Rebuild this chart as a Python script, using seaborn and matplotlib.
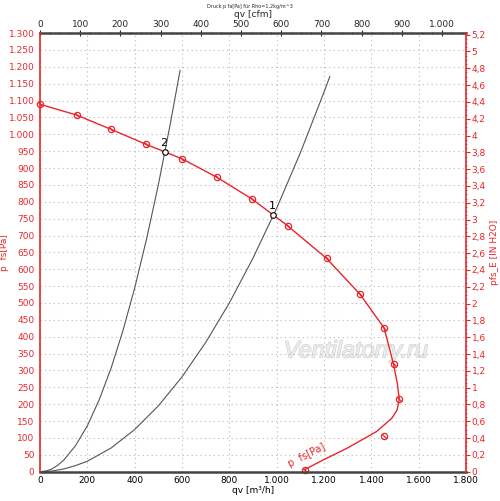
import matplotlib
matplotlib.use("Agg")
import matplotlib.pyplot as plt
import matplotlib.patheffects as pe
from matplotlib.ticker import FuncFormatter, MultipleLocator
import seaborn as sns
import pandas as pd

# === Datos ===
# curva del ventilador p_fs (línea)
curve_q = [0, 155, 299, 446, 601, 749, 896, 1046, 1211, 1352, 1454, 1494, 1510, 1518,
           1509, 1486, 1422, 1296, 1197, 1115]
curve_p = [1089, 1057, 1015, 971, 927, 872, 808, 729, 632, 526, 426, 318, 260, 215,
           183, 158, 119, 69, 35, 5]
# puntos medidos (marcadores)
meas_q = [0, 155, 299, 446, 601, 749, 896, 1046, 1211, 1352, 1454, 1494, 1518, 1453, 1118]
meas_p = [1089, 1057, 1015, 971, 927, 872, 808, 729, 632, 526, 426, 318, 215, 107, 5]
# curvas del sistema
sys1_q = [0, 50, 100, 150, 200, 300, 400, 500, 600, 700, 800, 900, 1000, 1100, 1200, 1225]
sys1_p = [0, 2, 8, 18, 31, 70, 125, 195, 281, 383, 500, 633, 781, 945, 1125, 1172]
sys2_q = [0, 25, 50, 75, 100, 150, 200, 250, 300, 350, 400, 450, 500, 550, 592]
sys2_p = [0, 2, 8, 19, 34, 77, 136, 213, 306, 417, 544, 689, 850, 1029, 1190]
# puntos de operación
op_labels = ["1", "2"]
op_q = [986, 528]
op_p = [760, 948]

RED = "#e8262a"
GREY = "#555555"
M3H_TO_CFM = 0.588578
PA_TO_INH2O = 1 / 249.089
FS = 6.5

sns.set_style("white")
plt.rcParams["font.family"] = ["DejaVu Sans"]

fig = plt.figure(figsize=(5, 5.01), dpi=100)
ax = fig.add_axes([0.08, 0.0585, 0.852, 0.8755])

df_curve = pd.DataFrame({"q": curve_q, "p": curve_p})
df_s1 = pd.DataFrame({"q": sys1_q, "p": sys1_p})
df_s2 = pd.DataFrame({"q": sys2_q, "p": sys2_p})

sns.lineplot(data=df_s1, x="q", y="p", sort=False, estimator=None, color=GREY, lw=0.8, ax=ax)
sns.lineplot(data=df_s2, x="q", y="p", sort=False, estimator=None, color=GREY, lw=0.8, ax=ax)
sns.lineplot(data=df_curve, x="q", y="p", sort=False, estimator=None, color=RED, lw=1.0, ax=ax)
ax.plot(meas_q, meas_p, ls="none", marker="o", ms=4.5, mfc="none", mec=RED, mew=0.9, clip_on=False)
ax.plot(meas_q, meas_p, ls="none", marker=(2, 2, 45), ms=4.5, mec=RED, mew=0.7, clip_on=False)

ax.plot(op_q, op_p, ls="none", marker="o", ms=4, mfc="white", mec="black", mew=0.8, zorder=5)
for lab, q, p in zip(op_labels, op_q, op_p):
    ax.text(q - 5, p + 12, lab, fontsize=8, color="black", ha="center", va="bottom")

ax.text(1060, 8, "p  fs[Pa]", color=RED, fontsize=7, rotation=27,
        ha="left", va="bottom", rotation_mode="anchor")

ax.text(1335, 358, "Ventilatorry.ru", fontsize=17, style="italic", family="Liberation Sans",
        color="#ececec", ha="center", va="center", zorder=0.5,
        path_effects=[pe.withStroke(linewidth=1.0, foreground="#d4d4d4")])

ax.set_xlim(0, 1800)
ax.set_ylim(0, 1300)

def thousands(v, pos):
    return f"{v:,.0f}".replace(",", ".")

def comma_dec(v, pos):
    s = f"{v:.1f}"
    if s.endswith(".0"):
        s = s[:-2]
    if s == "-0":
        s = "0"
    return s.replace(".", ",")

ax.xaxis.set_major_locator(MultipleLocator(200))
ax.xaxis.set_minor_locator(MultipleLocator(50))
ax.yaxis.set_major_locator(MultipleLocator(50))
ax.yaxis.set_minor_locator(MultipleLocator(10))
ax.xaxis.set_major_formatter(FuncFormatter(thousands))
ax.yaxis.set_major_formatter(FuncFormatter(thousands))
ax.grid(True, which="major", color="#b8b8b8", ls=(0, (1, 3)), lw=0.8)

ax.tick_params(axis="x", which="major", direction="inout", length=4, width=0.8,
               labelsize=FS, colors="black", pad=1)
ax.tick_params(axis="x", which="minor", direction="inout", length=2, width=0.6, colors="black")
ax.tick_params(axis="y", which="major", direction="out", length=3, width=0.8,
               labelsize=FS, colors=RED, pad=1)
ax.tick_params(axis="y", which="minor", direction="inout", length=2, width=0.5, colors=RED)

for side in ["top", "bottom"]:
    ax.spines[side].set_color("#444444")
    ax.spines[side].set_linewidth(1.8)
for side in ["left", "right"]:
    ax.spines[side].set_color(RED)
    ax.spines[side].set_linewidth(1.2)
    ax.spines[side].set_zorder(6)

ax.set_xlabel("qv [m³/h]", fontsize=FS, color="black", labelpad=1)
ax.set_ylabel("p  fs[Pa]", fontsize=FS, color=RED)
ax.yaxis.set_label_coords(-0.073, 0.5)

# eje superior en cfm
top = ax.secondary_xaxis("top", functions=(lambda x: x * M3H_TO_CFM, lambda x: x / M3H_TO_CFM))
top.xaxis.set_major_locator(MultipleLocator(100))
top.xaxis.set_minor_locator(MultipleLocator(25))
top.xaxis.set_major_formatter(FuncFormatter(thousands))
top.tick_params(which="major", direction="inout", length=4, width=0.8, labelsize=FS, pad=1)
top.tick_params(which="minor", direction="inout", length=2, width=0.6)
top.spines["top"].set_visible(False)
top.set_xlabel("qv [cfm]", fontsize=FS, labelpad=2)

# eje derecho en in H2O
right = ax.secondary_yaxis("right", functions=(lambda y: y * PA_TO_INH2O, lambda y: y / PA_TO_INH2O))
right.yaxis.set_major_locator(MultipleLocator(0.2))
right.yaxis.set_minor_locator(MultipleLocator(0.05))
right.yaxis.set_major_formatter(FuncFormatter(comma_dec))
right.tick_params(which="major", direction="out", length=3, width=0.8, labelsize=FS,
                  colors=RED, pad=1)
right.tick_params(which="minor", direction="inout", length=2, width=0.5, colors=RED)
right.spines["right"].set_visible(False)
right.set_ylabel("pfs_E [IN H2O]", fontsize=FS, color=RED, labelpad=3)

fig.text(0.5, 0.988, "Druck p fa[Pa] für Rho=1,2kg/m^3", fontsize=3.5, ha="center", va="center")

fig.savefig("out.png", dpi=100, facecolor="white")
